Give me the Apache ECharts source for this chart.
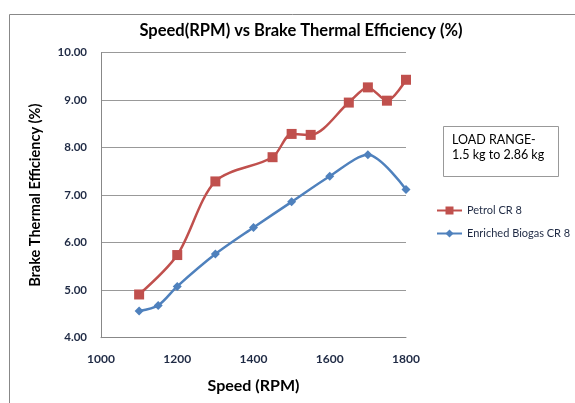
<!DOCTYPE html>
<html>
<head>
<meta charset="utf-8">
<script src="https://cdn.jsdelivr.net/npm/echarts@6/dist/echarts.min.js"></script>
<style>
html, body { margin: 0; padding: 0; background: #fff; }
#chart { width: 575px; height: 403px; }
</style>
</head>
<body>
<div id="chart"></div>
<script>
// petrol CR 8 readings
var petrolRpm = [1100, 1200, 1300, 1450, 1500, 1550, 1650, 1700, 1750, 1800];
var petrolBte = [4.91, 5.74, 7.29, 7.80, 8.29, 8.27, 8.95, 9.27, 8.99, 9.43];
// enriched biogas CR 8 readings
var biogasRpm = [1100, 1150, 1200, 1300, 1400, 1500, 1600, 1700, 1800];
var biogasBte = [4.56, 4.68, 5.08, 5.76, 6.32, 6.86, 7.40, 7.85, 7.12];

var font = 'Lato';
var txt = '#1f2a44';

var chart = echarts.init(document.getElementById('chart'));
var option = {
  animation: false,
  textStyle: { fontFamily: font },
  title: {
    text: 'Speed(RPM) vs Brake Thermal Efficiency (%)',
    left: 296, top: 17, textAlign: 'center',
    textStyle: { fontSize: 16.5, fontWeight: 'bold', color: '#000', fontFamily: font }
  },
  grid: { left: 101, right: 169, top: 52.7, bottom: 65.3 },
  legend: {
    orient: 'vertical',
    left: 436, top: 205, padding: 0,
    itemGap: 12, itemWidth: 25, itemHeight: 10,
    textStyle: { fontSize: 11, color: txt, fontFamily: font },
    data: ['Petrol CR 8', 'Enriched Biogas CR 8']
  },
  xAxis: {
    type: 'value', min: 1000, max: 1800, interval: 200,
    name: 'Speed (RPM)', nameLocation: 'middle', nameGap: 40,
    nameTextStyle: { fontSize: 16, fontWeight: 'bold', color: '#000', fontFamily: font },
    axisLine: { lineStyle: { color: '#888' } },
    axisTick: { show: false },
    splitLine: { show: false },
    axisLabel: {
      fontSize: 12, fontWeight: 'bold', color: txt, margin: 15,
      formatter: function (v) { return String(v); }
    }
  },
  yAxis: {
    type: 'value', min: 4, max: 10, interval: 1,
    name: 'Brake Thermal Efficiency (%)', nameLocation: 'middle', nameGap: 58,
    nameTextStyle: { fontSize: 14.5, fontWeight: 'bold', color: '#000', fontFamily: font },
    axisLine: { show: true, lineStyle: { color: '#888' } },
    axisTick: { show: false },
    splitLine: { lineStyle: { color: '#999' } },
    axisLabel: {
      fontSize: 11.5, fontWeight: 'bold', color: txt, margin: 14,
      formatter: function (v) { return v.toFixed(2); }
    }
  },
  graphic: [
    { type: 'rect', shape: { x: 9.5, y: 14.5, width: 700, height: 500 },
      style: { fill: 'none', stroke: '#888', lineWidth: 1 }, silent: true, z: -1 },
    { type: 'rect', shape: { x: 443.5, y: 126.5, width: 115, height: 50 },
      style: { fill: '#fff', stroke: '#999', lineWidth: 1 } },
    { type: 'text', left: 452, top: 132,
      style: { text: 'LOAD RANGE-\n1.5 kg to 2.86 kg', fontSize: 12.5, lineHeight: 15,
               fill: '#000', fontFamily: font } }
  ],
  series: [
    {
      name: 'Petrol CR 8', type: 'line', smooth: 0.3,
      data: petrolRpm.map(function (r, i) { return [r, petrolBte[i]]; }),
      symbol: 'rect', symbolSize: 10,
      lineStyle: { color: '#C0504D', width: 2.5 },
      itemStyle: { color: '#C0504D' }
    },
    {
      name: 'Enriched Biogas CR 8', type: 'line', smooth: 0.3,
      data: biogasRpm.map(function (r, i) { return [r, biogasBte[i]]; }),
      symbol: 'diamond', symbolSize: 9,
      lineStyle: { color: '#4F81BD', width: 2.5 },
      itemStyle: { color: '#4F81BD' }
    }
  ]
};
chart.setOption(option);
</script>
</body>
</html>
